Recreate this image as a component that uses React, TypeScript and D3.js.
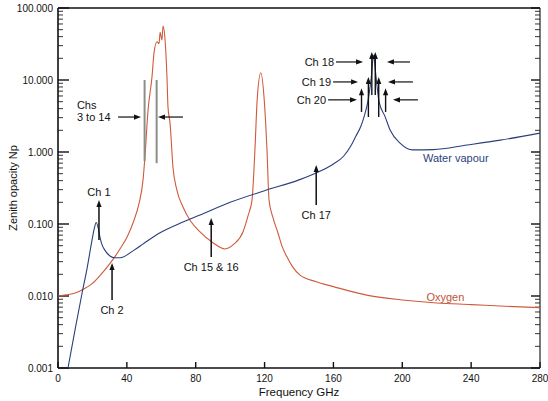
import React from 'react';
import * as d3 from 'd3';

const W = 548;
const H = 401;

// Oxygen opacity (GHz, Np)
const o2Freq = [0, 5, 10, 15, 20, 25, 30, 33, 36, 40, 44, 47, 49.4, 50.5, 52.3, 54.6, 55.8, 57.5, 58.7, 59.3, 60.4, 61, 62.2, 63.3, 63.9, 65.1, 66.8, 69, 72.6, 77, 82.5, 90, 97, 102, 107.5, 110.5, 112.7, 114.4, 115.7, 117.8, 119.8, 121.4, 122.6, 125, 127.8, 130, 133, 136, 140.6, 150, 160, 180, 200, 220, 240, 260, 280];
const o2Val = [0.010, 0.0104, 0.011, 0.0125, 0.015, 0.02, 0.028, 0.035, 0.045, 0.065, 0.11, 0.19, 0.41, 0.85, 3.8, 11, 24, 34, 32, 46, 36, 56, 36, 11, 4.2, 2.5, 0.61, 0.3, 0.172, 0.11, 0.078, 0.055, 0.045, 0.052, 0.078, 0.133, 0.215, 1.07, 5.3, 12.6, 5.3, 1.07, 0.215, 0.12, 0.075, 0.05, 0.035, 0.026, 0.0195, 0.0158, 0.0135, 0.0102, 0.0088, 0.008, 0.0076, 0.0072, 0.0069];

// Water vapour opacity (GHz, Np)
const h2oFreq = [5.8, 10, 14, 17, 19.5, 21, 22.2, 23.5, 24.4, 25.5, 27.3, 30.2, 33, 36, 44, 50, 59, 70, 82.5, 100, 120, 140, 150, 160, 166, 170, 173, 176, 178, 180, 182, 183.3, 184.6, 186.5, 190, 193, 198.7, 206, 218, 237.6, 257, 280];
const h2oVal = [0.001, 0.0035, 0.011, 0.025, 0.055, 0.085, 0.105, 0.085, 0.065, 0.052, 0.043, 0.036, 0.034, 0.034, 0.043, 0.054, 0.075, 0.1, 0.133, 0.2, 0.29, 0.41, 0.51, 0.68, 0.88, 1.2, 1.65, 2.3, 3.2, 5, 11, 22, 12, 5, 3.1, 2.0, 1.33, 1.07, 1.08, 1.25, 1.46, 1.83];

const xTicks = [0, 40, 80, 120, 160, 200, 240, 280];
const yTicks = [0.001, 0.01, 0.1, 1, 10, 100];

// single-channel arrows: frequency, arrow tip value, arrow base value
const chNames = ['Ch 1', 'Ch 2', 'Ch 15 & 16', 'Ch 17'];
const chFreq = [23.8, 31.4, 89, 150];
const chTip = [0.215, 0.0287, 0.121, 0.66];
const chBase = [0.06, 0.0088, 0.0348, 0.184];
const chLabelAbove = [true, false, false, false];

// 183 GHz channels
const wvCentre = 183.31;
const wvNames = ['Ch 18', 'Ch 19', 'Ch 20'];
const wvOffset = [1, 3, 7];
const wvTip = [24.5, 11, 7.7];
const wvBase = [6.2, 3.06, 3.6];
const wvLevel = [17.8, 9.4, 5.3];
const wvLeftFrom = [161.5, 159.8, 156.9];
const wvLeftTo = [177.2, 174.3, 173.7];
const wvRightFrom = [204.5, 206.2, 209.1];
const wvRightTo = [191.1, 191.7, 194.6];

// Chs 3 to 14 band markers
const bandFreq = [50.3, 57.3];
const bandTop = [10, 10];
const bandBottom = [0.75, 0.7];
const bandLevel = 3.06;
const bandLeftArrow = [34.9, 48.2];
const bandRightArrow = [72.6, 58.1];
const bandLabelFreq = 11;

const FONT = "'Liberation Sans', Arial, sans-serif";

function head(x: number, y: number, dx: number, dy: number, len = 7, hw = 2.8) {
  const bx = x - dx * len;
  const by = y - dy * len;
  const px = -dy, py = dx;
  return `M${x},${y}L${bx + px * hw},${by + py * hw}L${bx - px * hw},${by - py * hw}Z`;
}

export default function App() {
  const x = d3.scaleLinear().domain([0, 280]).range([58, 540]);
  const y = d3.scaleLog().domain([0.001, 100]).range([368, 8]);
  const [x0, x1] = x.range();
  const [yb, yt] = y.range();

  const line = d3.line<[number, number]>()
    .x(d => x(d[0]))
    .y(d => y(d[1]))
    .curve(d3.curveMonotoneX);

  const o2Path = line(o2Freq.map((f, i) => [f, o2Val[i]] as [number, number])) || '';
  const h2oPath = line(h2oFreq.map((f, i) => [f, h2oVal[i]] as [number, number])) || '';

  const minor: number[] = [];
  for (let e = -3; e < 2; e++) {
    for (let k = 2; k <= 9; k++) minor.push(k * Math.pow(10, e));
  }
  const fmt = d3.format('.3f');

  const vArrow = (f: number, tip: number, base: number, key: string, sw = 1.5) => {
    const xx = x(f);
    const yTip = y(tip);
    return (
      <g key={key}>
        <line x1={xx} x2={xx} y1={y(base)} y2={yTip + 5} stroke="#111" strokeWidth={sw} />
        <path d={head(xx, yTip, 0, -1, 7, 2.6)} fill="#111" />
      </g>
    );
  };
  const hArrow = (fFrom: number, fTo: number, v: number, key: string) => {
    const xa = x(fFrom), xb = x(fTo), yy = y(v);
    const dir = xb > xa ? 1 : -1;
    return (
      <g key={key}>
        <line x1={xa} x2={xb - dir * 5} y1={yy} y2={yy} stroke="#111" strokeWidth={1.2} />
        <path d={head(xb, yy, dir, 0, 7, 2.6)} fill="#111" />
      </g>
    );
  };

  return (
    <svg width={W} height={H} style={{ position: 'absolute', left: 0, top: 0, background: '#fff' }} fontFamily={FONT}>
      <rect x={0} y={0} width={W} height={H} fill="#fff" />
      <defs>
        <clipPath id="plot">
          <rect x={x0} y={yt} width={x1 - x0} height={yb - yt} />
        </clipPath>
      </defs>

      {/* minor / major ticks left & right */}
      {minor.map((v, i) => (
        <g key={'mn' + i} stroke="#333" strokeWidth={1}>
          <line x1={x0} x2={x0 + 5} y1={y(v)} y2={y(v)} />
          <line x1={x1} x2={x1 - 5} y1={y(v)} y2={y(v)} />
        </g>
      ))}
      {yTicks.map((v, i) => (
        <g key={'mj' + i}>
          <line x1={x0} x2={x0 + 11} y1={y(v)} y2={y(v)} stroke="#111" strokeWidth={1.4} />
          <line x1={x1} x2={x1 - 9} y1={y(v)} y2={y(v)} stroke="#111" strokeWidth={1.4} />
          <text x={x0 - 5} y={y(v)} dy="0.36em" textAnchor="end" fontSize={10} fill="#111">{fmt(v)}</text>
        </g>
      ))}
      {xTicks.map((t, i) => (
        <g key={'xt' + i}>
          <line x1={x(t)} x2={x(t)} y1={yb} y2={yb - 6} stroke="#111" strokeWidth={1.4} />
          <text x={x(t)} y={yb + 14} textAnchor="middle" fontSize={10} fill="#111">{t}</text>
        </g>
      ))}

      {/* frame */}
      <line x1={x0} x2={x1} y1={yt} y2={yt} stroke="#111" strokeWidth={1.6} />
      <line x1={x0} x2={x1} y1={yb} y2={yb} stroke="#111" strokeWidth={1.6} />
      <line x1={x0} x2={x0} y1={yt} y2={yb} stroke="#111" strokeWidth={1.6} />
      <line x1={x1} x2={x1} y1={yt} y2={yb} stroke="#222" strokeWidth={1.2} />

      {/* curves */}
      <g clipPath="url(#plot)" fill="none">
        <path d={o2Path} stroke="#cf5a3c" strokeWidth={1.1} />
        <path d={h2oPath} stroke="#2a3f7c" strokeWidth={1.1} />
      </g>

      {/* Chs 3 to 14 */}
      {bandFreq.map((f, i) => (
        <line key={'bd' + i} x1={x(f)} x2={x(f)} y1={y(bandTop[i])} y2={y(bandBottom[i])} stroke="#8a8f88" strokeWidth={2} />
      ))}
      {hArrow(bandLeftArrow[0], bandLeftArrow[1], bandLevel, 'bl')}
      {hArrow(bandRightArrow[0], bandRightArrow[1], bandLevel, 'br')}
      <text x={x(bandLabelFreq)} y={y(bandLevel) - 8} fontSize={11} fill="#111">Chs</text>
      <text x={x(bandLabelFreq)} y={y(bandLevel)} dy="0.36em" fontSize={11} fill="#111">3 to 14</text>

      {/* single channels */}
      {chNames.map((n, i) => (
        <g key={'ch' + i}>
          {vArrow(chFreq[i], chTip[i], chBase[i], 'cha' + i)}
          <text x={x(chFreq[i])} y={chLabelAbove[i] ? y(chTip[i]) - 4 : y(chBase[i]) + 14} textAnchor="middle" fontSize={11} fill="#111">{n}</text>
        </g>
      ))}

      {/* 183 GHz channels */}
      {wvNames.map((n, i) => (
        <g key={'wv' + i}>
          {vArrow(wvCentre - wvOffset[i], wvTip[i], wvBase[i], 'wl' + i, 1.4)}
          {vArrow(wvCentre + wvOffset[i], wvTip[i], wvBase[i], 'wr' + i, 1.4)}
          {hArrow(wvLeftFrom[i], wvLeftTo[i], wvLevel[i], 'hl' + i)}
          {hArrow(wvRightFrom[i], wvRightTo[i], wvLevel[i], 'hr' + i)}
          <text x={x(wvLeftFrom[i]) - 2} y={y(wvLevel[i])} dy="0.36em" textAnchor="end" fontSize={11} fill="#111">{n}</text>
        </g>
      ))}

      {/* series labels */}
      <text x={x(212)} y={y(0.72)} fontSize={11} fill="#2a3f7c">Water vapour</text>
      <text x={x(214)} y={y(0.0085)} fontSize={11} fill="#c0533a">Oxygen</text>

      {/* axis titles */}
      <text x={(x0 + x1) / 2} y={396} textAnchor="middle" fontSize={11.5} fill="#111">Frequency GHz</text>
      <text transform={`translate(17,${188}) rotate(-90)`} textAnchor="middle" fontSize={11} fill="#111">Zenith opacity Np</text>
    </svg>
  );
}
